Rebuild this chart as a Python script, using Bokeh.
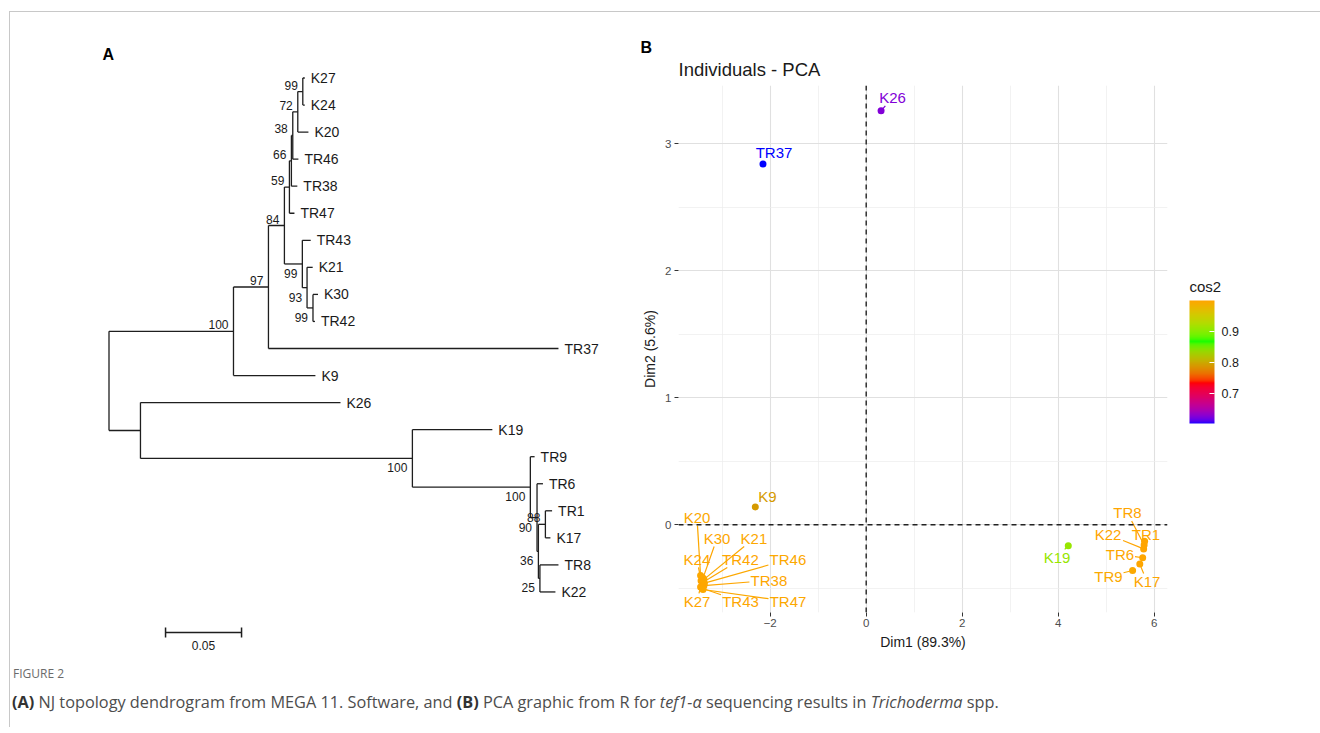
import numpy as np
from bokeh.plotting import figure
from bokeh.models import (ColumnDataSource, Range1d, Label, Span, FixedTicker, Title,
                          LinearColorMapper, ColorBar, Div)
from bokeh.layouts import row, column
from bokeh.embed import file_html
from bokeh.resources import INLINE
from bokeh.core.properties import value

# ======================= DATA : panel A (NJ tree, MEGA 11) =======================
leaf_order = ["K27", "K24", "K20", "TR46", "TR38", "TR47", "TR43", "K21", "K30", "TR42",
              "TR37", "K9", "K26", "K19", "TR9", "TR6", "TR1", "K17", "TR8", "K22"]

tree_children = {
    "root": ["n100", "j"],
    "n100": ["n97", "K9"],
    "n97": ["f", "TR37"],
    "f": ["e", "g"],
    "e": ["d", "TR47"],
    "d": ["c", "TR38"],
    "c": ["b", "TR46"],
    "b": ["a", "K20"],
    "a": ["K27", "K24"],
    "g": ["TR43", "h"],
    "h": ["K21", "i"],
    "i": ["K30", "TR42"],
    "j": ["K26", "k"],
    "k": ["K19", "l"],
    "l": ["TR9", "m"],
    "m": ["TR6", "m2"],
    "m2": ["n", "o"],
    "n": ["TR1", "K17"],
    "o": ["TR8", "K22"],
}

branch_length = {
    "n100": 0.0819, "n97": 0.0230, "K9": 0.0539, "TR37": 0.1908, "f": 0.0105,
    "e": 0.0033, "g": 0.0118, "d": 0.0013, "TR47": 0.0033, "c": 0.0009,
    "TR38": 0.0039, "b": 0.0033, "TR46": 0.0037, "a": 0.0033, "K20": 0.0070,
    "K27": 0.0013, "K24": 0.0013, "TR43": 0.0055, "h": 0.0031, "K21": 0.0037,
    "i": 0.0039, "K30": 0.0033, "TR42": 0.0013, "j": 0.0207, "K26": 0.1316,
    "k": 0.1789, "K19": 0.0526, "l": 0.0776, "TR9": 0.0028, "m": 0.0044,
    "TR6": 0.0039, "m2": 0.0009, "n": 0.0046, "o": 0.0010, "TR1": 0.0044,
    "K17": 0.0033, "TR8": 0.0122, "K22": 0.0102,
}

bootstrap = {
    "n100": 100, "n97": 97, "f": 84, "e": 59, "d": 66, "c": 38, "b": 72, "a": 99,
    "g": 99, "h": 93, "i": 99, "k": 100, "l": 100, "m": 90, "m2": 36, "n": 88, "o": 25,
}

scale_bar_length = 0.05

# ======================= DATA : panel B (PCA individuals) =======================
ind_names = ["TR37", "K26", "K9", "K19",
             "K20", "K30", "K21", "K24", "TR42", "TR46", "TR38", "K27", "TR43", "TR47",
             "TR1", "TR8", "K22", "TR6", "K17", "TR9"]
dim1 = [-2.15, 0.31, -2.31, 4.21,
        -3.45, -3.40, -3.38, -3.44, -3.39, -3.37, -3.38, -3.45, -3.42, -3.40,
        5.80, 5.79, 5.78, 5.76, 5.70, 5.55]
dim2 = [2.84, 3.26, 0.14, -0.165,
        -0.40, -0.42, -0.43, -0.44, -0.45, -0.46, -0.48, -0.49, -0.50, -0.51,
        -0.13, -0.16, -0.19, -0.26, -0.31, -0.36]
cos2 = [0.603, 0.625, 0.79, 0.908,
        0.995, 0.996, 0.995, 0.997, 0.996, 0.995, 0.996, 0.997, 0.996, 0.995,
        0.999, 0.998, 0.998, 0.997, 0.996, 0.994]

x_ticks = [-2, 0, 2, 4, 6]
x_minor = [-3, -1, 1, 3, 5]
y_ticks = [0, 1, 2, 3]
y_minor = [-0.5, 0.5, 1.5, 2.5]
cos2_ticks = [0.7, 0.8, 0.9]
pca_xlim = (-3.91, 6.277)
pca_ylim = (-0.691, 3.459)

# ======================= STYLE / LAYOUT CONSTANTS =======================
FONT = "Liberation Sans"
A_W, A_H = 610, 643
B_W, B_H = 552, 643
L_W, L_H = 140, 643
ROOT_PX, X_PX_PER_UNIT = 98.5, 1520.0
LEAF0_PX, ROW_PX = 65.5, 27.05
SCALE_BAR_X0, SCALE_BAR_ROWS_BELOW = 0.0372, 1.5
B_LEFT, B_RIGHT, B_TOP, B_BOTTOM = 58, 5, 73, 43

# label offsets (px, screen: +x right, +y down) from the point to the label centre
label_offset = {
    "K26": (11.4, -12.8), "TR37": (11.0, -11.6), "K9": (12.2, -10.5), "K19": (-11.3, 11.7),
    "K20": (-3.6, -58.1), "K30": (14.0, -39.6), "K21": (50.0, -40.9), "K24": (-4.1, -21.2),
    "TR42": (37.0, -22.5), "TR46": (83.5, -23.7), "TR38": (65.0, -5.3), "K27": (-3.6, 14.5),
    "TR43": (38.5, 13.2), "TR47": (85.0, 11.9),
    "TR1": (1.4, -6.8), "TR8": (-16.6, -32.1), "K22": (-35.6, -14.4), "TR6": (-22.7, -3.3),
    "K17": (7.2, 17.3), "TR9": (-24.1, 6.0),
}

# ---------- colour ramp (ggplot gradientn, Lab interpolation) ----------
M = np.array([[0.4124564, 0.3575761, 0.1804375],
              [0.2126729, 0.7151522, 0.0721750],
              [0.0193339, 0.1191920, 0.9503041]])
WHITE = np.array([0.95047, 1.0, 1.08883])


def to_lab(rgb):
    c = np.array(rgb, dtype=float) / 255.0
    c = np.where(c <= 0.04045, c / 12.92, ((c + 0.055) / 1.055) ** 2.4)
    xyz = (M @ c) / WHITE
    d = 6 / 29
    f = np.where(xyz > d ** 3, np.cbrt(xyz), xyz / (3 * d * d) + 4 / 29)
    return np.array([116 * f[1] - 16, 500 * (f[0] - f[1]), 200 * (f[1] - f[2])])


def to_hex(lab):
    L, a, b = lab
    fy = (L + 16) / 116
    f = np.array([fy + a / 500, fy, fy - b / 200])
    d = 6 / 29
    xyz = np.where(f > d, f ** 3, 3 * d * d * (f - 4 / 29)) * WHITE
    c = np.clip(np.linalg.inv(M) @ xyz, 0, 1)
    c = np.where(c <= 0.0031308, 12.92 * c, 1.055 * c ** (1 / 2.4) - 0.055)
    c = np.clip(c, 0, 1)
    return "#%02x%02x%02x" % tuple(int(round(v * 255)) for v in c)


stops = [to_lab(c) for c in [(0, 0, 255), (255, 0, 0), (0, 255, 0), (255, 165, 0)]]
palette = []
for t in np.linspace(0, 1, 256):
    seg = min(int(t * 3), 2)
    u = t * 3 - seg
    palette.append(to_hex(stops[seg] * (1 - u) + stops[seg + 1] * u))

# ======================= PANEL A =======================
xpos = {"root": 0.0}
ypos = {nm: float(i) for i, nm in enumerate(leaf_order)}
parent_of = {}


def walk(node):
    kids = tree_children.get(node, [])
    for ch in kids:
        parent_of[ch] = node
        xpos[ch] = xpos[node] + branch_length[ch]
        walk(ch)
    if kids:
        ypos[node] = (ypos[kids[0]] + ypos[kids[-1]]) / 2


walk("root")

hx0, hx1, hy, vx, vy0, vy1 = [], [], [], [], [], []
for node, kids in tree_children.items():
    vx.append(xpos[node]); vy0.append(-ypos[kids[0]]); vy1.append(-ypos[kids[-1]])
    for ch in kids:
        hx0.append(xpos[node]); hx1.append(xpos[ch]); hy.append(-ypos[ch])

pA = figure(width=A_W, height=A_H, output_backend="svg", toolbar_location=None,
            x_range=Range1d(-ROOT_PX / X_PX_PER_UNIT, (A_W - ROOT_PX) / X_PX_PER_UNIT),
            y_range=Range1d(-(A_H - LEAF0_PX) / ROW_PX, LEAF0_PX / ROW_PX),
            x_axis_type=None, y_axis_type=None, min_border=0)
pA.frame_align = False
pA.grid.visible = False
pA.outline_line_color = None

line_kw = dict(line_color="#1e1e1e", line_width=1.3)
pA.segment(x0=hx0, x1=hx1, y0=hy, y1=hy, **line_kw)
pA.segment(x0=vx, x1=vx, y0=vy0, y1=vy1, **line_kw)

leaf_src = ColumnDataSource(dict(x=[xpos[n] for n in leaf_order],
                                 y=[-ypos[n] for n in leaf_order], t=leaf_order))
pA.text(x="x", y="y", text="t", source=leaf_src, x_offset=6, text_baseline="middle",
        text_font=value(FONT), text_font_size="14px", text_color="#1a1a1a")

up = dict(x=[], y=[], t=[])
lo = dict(x=[], y=[], t=[])
for node, val in bootstrap.items():
    tgt = up if tree_children[parent_of[node]][0] == node else lo
    tgt["x"].append(xpos[node]); tgt["y"].append(-ypos[node]); tgt["t"].append(str(val))
pA.text(x="x", y="y", text="t", source=ColumnDataSource(up), x_offset=-5, y_offset=-2,
        text_align="right", text_baseline="bottom", text_font=value(FONT),
        text_font_size="12px", text_color="#1a1a1a")
pA.text(x="x", y="y", text="t", source=ColumnDataSource(lo), x_offset=-5, y_offset=5,
        text_align="right", text_baseline="top", text_font=value(FONT),
        text_font_size="12px", text_color="#1a1a1a")

sb_y = -(len(leaf_order) - 1) - SCALE_BAR_ROWS_BELOW
sb_tick = 5 / ROW_PX
pA.segment(x0=[SCALE_BAR_X0, SCALE_BAR_X0, SCALE_BAR_X0 + scale_bar_length],
           x1=[SCALE_BAR_X0 + scale_bar_length, SCALE_BAR_X0, SCALE_BAR_X0 + scale_bar_length],
           y0=[sb_y, sb_y - sb_tick, sb_y - sb_tick], y1=[sb_y, sb_y + sb_tick, sb_y + sb_tick],
           line_color="#1e1e1e", line_width=1.5)
pA.text(x=[SCALE_BAR_X0 + scale_bar_length / 2], y=[sb_y], text=[str(scale_bar_length)],
        y_offset=8, text_align="center", text_baseline="top", text_font=value(FONT),
        text_font_size="12px", text_color="#1a1a1a")

pA.add_layout(Label(x=(92 - ROOT_PX) / X_PX_PER_UNIT, y=-(42 - LEAF0_PX) / ROW_PX,
                    text="A", text_font=FONT, text_font_size="16px", text_font_style="bold",
                    text_baseline="alphabetic", text_color="#000000"))

# ======================= PANEL B =======================
pB = figure(width=B_W, height=B_H, output_backend="svg", toolbar_location=None,
            x_range=Range1d(*pca_xlim), y_range=Range1d(*pca_ylim),
            min_border_left=B_LEFT, min_border_right=B_RIGHT,
            min_border_top=B_TOP, min_border_bottom=B_BOTTOM, title=None)
pB.frame_align = False
pB.outline_line_color = None
pB.add_layout(Title(text="Individuals - PCA", align="left", standoff=12, text_font=FONT,
                    text_font_size="18.5px", text_font_style="normal",
                    text_color="#1a1a1a"), "above")
pB.add_layout(Title(text="B", align="left", offset=-38, standoff=-11, text_font=FONT,
                    text_font_size="16px", text_font_style="bold",
                    text_color="#000000"), "above")

pB.xaxis.ticker = FixedTicker(ticks=x_ticks, minor_ticks=x_minor)
pB.yaxis.ticker = FixedTicker(ticks=y_ticks, minor_ticks=y_minor)
pB.xaxis.axis_label = "Dim1 (89.3%)"
pB.yaxis.axis_label = "Dim2 (5.6%)"
for ax in (pB.xaxis, pB.yaxis):
    ax.axis_line_color = None
    ax.major_tick_line_color = "#333333"
    ax.major_tick_out = 4
    ax.major_tick_in = 0
    ax.minor_tick_line_color = None
    ax.major_label_text_font = FONT
    ax.major_label_text_font_size = "11.5px"
    ax.major_label_text_color = "#4d4d4d"
    ax.axis_label_text_font = FONT
    ax.axis_label_text_font_size = "14px"
    ax.axis_label_text_font_style = "normal"
    ax.axis_label_text_color = "#1a1a1a"
pB.xaxis.major_label_standoff = 2
pB.xaxis.axis_label_standoff = 4
pB.yaxis.major_label_standoff = 3
pB.yaxis.axis_label_standoff = 4
for g in (pB.xgrid, pB.ygrid):
    g.grid_line_color = "#e0e0e0"
    g.grid_line_width = 1.1
    g.minor_grid_line_color = "#ededed"
    g.minor_grid_line_width = 0.7

for dim in ("height", "width"):
    pB.add_layout(Span(location=0, dimension=dim, line_color="#222222",
                       line_width=1.4, line_dash="5 4"))

mapper = LinearColorMapper(palette=palette, low=min(cos2), high=max(cos2))
cmap = {"field": "cos2", "transform": mapper}

fw = B_W - B_LEFT - B_RIGHT
fh = B_H - B_TOP - B_BOTTOM
sx = fw / (pca_xlim[1] - pca_xlim[0])
sy = fh / (pca_ylim[1] - pca_ylim[0])

dxo, dyo = [], []
sgx0, sgy0, sgx1, sgy1, sgc = [], [], [], [], []
for nm, x, y, c in zip(ind_names, dim1, dim2, cos2):
    ox, oy = label_offset[nm]
    dxo.append(ox); dyo.append(oy)
    hw = 0.6 * 15 * len(nm) / 2 + 1.5
    hh = 8.0
    vxp, vyp = -ox, -oy
    tx = hw / abs(vxp) if vxp else np.inf
    ty = hh / abs(vyp) if vyp else np.inf
    t = min(tx, ty)
    if t < 1:
        rem = np.hypot(vxp, vyp) * (1 - t)
        if rem > 5:
            spx, spy = ox + vxp * t, oy + vyp * t
            sgx0.append(x + spx / sx); sgy0.append(y - spy / sy)
            sgx1.append(x); sgy1.append(y); sgc.append(c)

pB.segment(x0="x0", y0="y0", x1="x1", y1="y1", line_width=1.2, line_color=cmap,
           source=ColumnDataSource(dict(x0=sgx0, y0=sgy0, x1=sgx1, y1=sgy1, cos2=sgc)))
pts = ColumnDataSource(dict(x=dim1, y=dim2, cos2=cos2, name=ind_names, dx=dxo, dy=dyo))
pB.scatter(x="x", y="y", source=pts, size=7, line_color=None, fill_color=cmap)
pB.text(x="x", y="y", text="name", source=pts, x_offset="dx", y_offset="dy",
        text_align="center", text_baseline="middle", text_font=value(FONT),
        text_font_size="15px", text_color=cmap)

# ======================= LEGEND (cos2 colour bar) =======================
pL = figure(width=L_W, height=L_H, output_backend="svg", toolbar_location=None,
            x_range=Range1d(0, L_W), y_range=Range1d(0, L_H),
            x_axis_type=None, y_axis_type=None, min_border=0)
pL.frame_align = False
pL.grid.visible = False
pL.outline_line_color = None

cb = ColorBar(color_mapper=mapper, ticker=FixedTicker(ticks=cos2_ticks),
              width=25, height=123, location=(17, 232), padding=0, margin=0,
              major_label_text_font=FONT, major_label_text_font_size="12.5px",
              major_label_text_color="#1a1a1a", label_standoff=7,
              major_tick_line_color="white", major_tick_in=5, major_tick_out=0,
              minor_tick_line_color=None, bar_line_color=None,
              background_fill_color=None, border_line_color=None)
pL.add_layout(cb)
pL.add_layout(Label(x=17, y=L_H - 274, text="cos2", text_font=FONT, text_font_size="15px",
                    text_baseline="alphabetic", text_color="#1a1a1a"))

# ======================= CAPTION =======================
caption_html = (
    '<div style="position:relative;width:1300px;height:62px;font-family:\'Open Sans\',sans-serif;">'
    '<div style="position:absolute;left:-2px;top:5px;font-size:12px;color:#6b6b6b;">FIGURE 2</div>'
    '<div style="position:absolute;left:-3px;top:31px;font-size:16.3px;color:#4d4d4d;white-space:nowrap;">'
    '<b style="color:#333">(A)</b> NJ topology dendrogram from MEGA 11. Software, and '
    '<b style="color:#333">(B)</b> PCA graphic from R for <i>tef1-&alpha;</i> sequencing results in '
    '<i>Trichoderma</i> spp.</div></div>'
)
caption = Div(text=caption_html, width=1302, height=62)

layout = column(row(pA, pB, pL), caption, margin=(11, 0, 0, 9),
                styles={"border-top": "1px solid #c8c8c8", "border-left": "1px solid #c8c8c8"})

open("out.html", "w").write(file_html(layout, INLINE, "Figure 2"))
